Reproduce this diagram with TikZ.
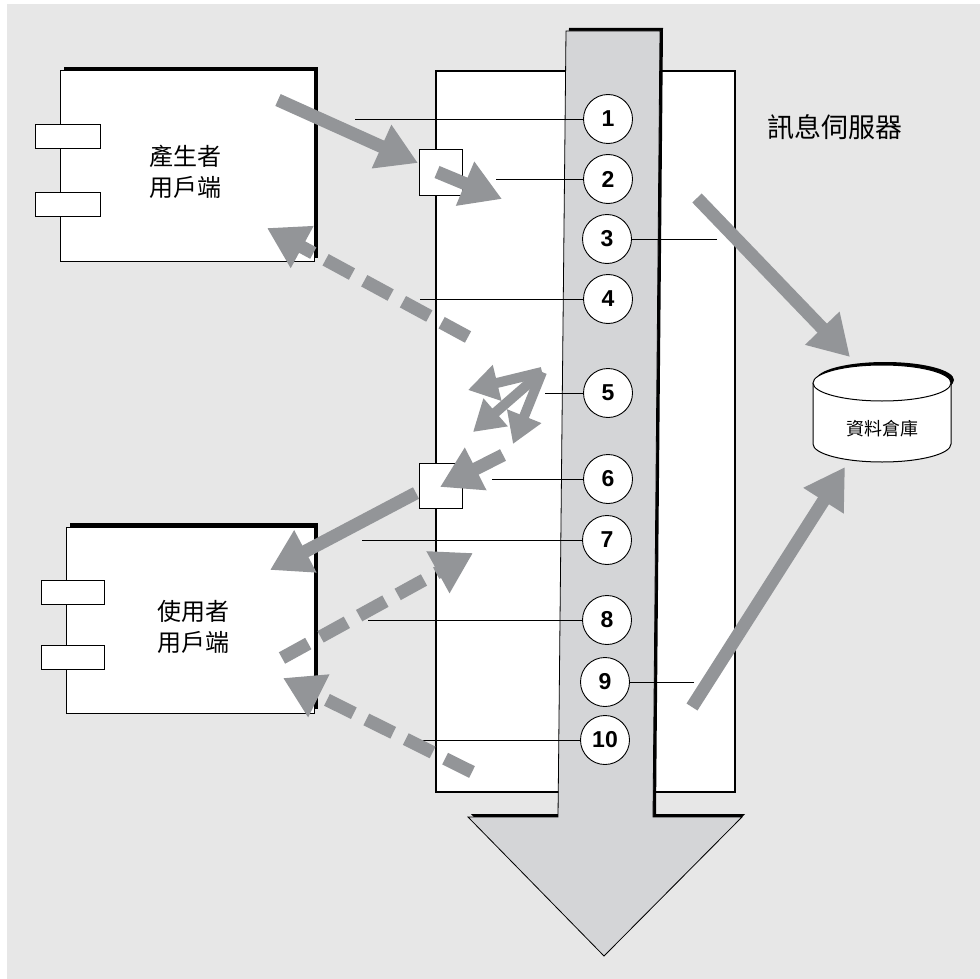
\documentclass[tikz,border=0pt]{standalone}
\usepackage{fontspec}
\setmainfont{Liberation Sans}
\newfontfamily\cjk{Noto Sans CJK TC}
\usetikzlibrary{arrows.meta}
\definecolor{bggray}{HTML}{E7E7E7}
\definecolor{shaftgray}{HTML}{D4D5D7}
\definecolor{arrgray}{HTML}{939598}
\begin{document}
\begin{tikzpicture}[x=1pt,y=-1pt,
  num/.style={circle,draw,fill=white,minimum size=49pt,inner sep=0pt,line width=0.9pt,font=\fontsize{23}{26}\selectfont\bfseries},
  leader/.style={line width=0.8pt},
  flow/.style={draw=arrgray,line width=13pt,-{Triangle[length=40pt,width=45pt]}},
  dflow/.style={flow,dash pattern=on 30pt off 14pt},
  fan/.style={draw=arrgray,line width=10pt,-{Triangle[length=30pt,width=35pt]}},
  port/.style={draw,fill=white,line width=1pt,inner sep=0pt,minimum height=24pt},
  qbox/.style={draw,fill=white,line width=1pt,minimum width=43pt,minimum height=45pt,inner sep=0pt},
  client/.style={draw,fill=white,line width=1pt,inner sep=0pt},
  lbl/.style={font=\cjk\fontsize{24}{31}\selectfont,align=center},
]
\useasboundingbox (0,0) rectangle (980,979);
\fill[white] (0,0) rectangle (980,979);
\fill[bggray] (7,4) rectangle (980,979);

% server box
\draw[line width=2.8pt,fill=white] (436,71) rectangle (735,792);
\node[lbl,font=\cjk\fontsize{27}{31}\selectfont] (title) at (835,127) {訊息伺服器};

% big flow arrow
\begin{scope}[shift={(3,-3)}]
\fill[black] (566,31) -- (660,31) -- (653,817) -- (742,817) -- (604,956) -- (468,817) -- (558,817) -- cycle;
\end{scope}
\draw[fill=shaftgray,line width=0.8pt] (566,31) -- (660,31) -- (653,817) -- (742,817) -- (604,956) -- (468,817) -- (558,817) -- cycle;

% queue boxes
\node[qbox] (q1) at (440.5,172.5) {};
\node[qbox] (q2) at (440.5,485.5) {};

% circles
\node[num] (c1) at (608,119) {1};
\node[num] (c2) at (608,179) {2};
\node[num] (c3) at (607,239) {3};
\node[num] (c4) at (608,299) {4};
\node[num] (c5) at (608,393) {5};
\node[num] (c6) at (608,479) {6};
\node[num] (c7) at (607,540) {7};
\node[num] (c8) at (607,620) {8};
\node[num] (c9) at (605,682) {9};
\node[num] (c10) at (605,740) {10};

% leader ends
\coordinate (l1) at (355,119);
\coordinate (l2) at (496,179);
\coordinate (l3) at (717,239);
\coordinate (l4) at (420,299);
\coordinate (l5) at (545,393);
\coordinate (l6) at (492,479);
\coordinate (l7) at (362,540);
\coordinate (l8) at (368,620);
\coordinate (l9) at (694,682);
\coordinate (l10) at (419,740);
\draw[leader] (l1) -- (c1.west);
\draw[leader] (l2) -- (c2.west);
\draw[leader] (l3) -- (c3.east);
\draw[leader] (l4) -- (c4.west);
\draw[leader] (l5) -- (c5.west);
\draw[leader] (l6) -- (c6.west);
\draw[leader] (l7) -- (c7.west);
\draw[leader] (l8) -- (c8.west);
\draw[leader] (l9) -- (c9.east);
\draw[leader] (l10) -- (c10.west);

% producer client
\fill[black] (64,67) rectangle (318,258);
\node[client,minimum width=254pt,minimum height=190pt] (prod) at (187,166) {};
\node[port,minimum width=65pt] (pp1) at (67.5,137) {};
\node[port,minimum width=65pt] (pp2) at (67.5,204) {};
\node[lbl] (prodl) at (185,172) {產生者\\用戶端};

% consumer client
\fill[black] (70,523) rectangle (318,709);
\node[client,minimum width=248pt,minimum height=186pt] (cons) at (190,620) {};
\node[port,minimum width=63pt] (cp1) at (72.5,592) {};
\node[port,minimum width=63pt] (cp2) at (72.5,657) {};
\node[lbl] (consl) at (193,627) {使用者\\用戶端};

% database
\fill[black] (885,380) ellipse [x radius=69pt, y radius=18pt];
\draw[fill=white,line width=1pt] (813,383) -- (813,444) arc[start angle=180, end angle=360, x radius=69pt, y radius=18pt] -- (951,383);
\draw[fill=white,line width=1pt] (882,383) ellipse [x radius=69pt, y radius=18pt];
\node[font=\cjk\fontsize{18}{20}\selectfont] (db) at (882,429) {資料倉庫};

% flow arrow coordinates
\coordinate (a1s) at (278,100);  \coordinate (a1e) at (418,163);
\coordinate (a2s) at (437,172);  \coordinate (a2e) at (502,199);
\coordinate (a3s) at (468,337);  \coordinate (a3e) at (267,228);
\coordinate (f0) at (542,372);
\coordinate (f1) at (468,390);
\coordinate (f2) at (473,432);
\coordinate (f3) at (513,444);
\coordinate (a5s) at (503,455);  \coordinate (a5e) at (440,487);
\coordinate (a6s) at (416,493);  \coordinate (a6e) at (270,570);
\coordinate (a7s) at (282,658);  \coordinate (a7e) at (473,553);
\coordinate (a8s) at (472,772);  \coordinate (a8e) at (283,678);
\coordinate (a9s) at (697,198);  \coordinate (a9e) at (850,357);
\coordinate (a10s) at (692,707); \coordinate (a10e) at (845,467);

\draw[flow] (a1s) -- (a1e);
\draw[flow] (a2s) -- (a2e);
\draw[dflow] (a3s) -- (a3e);
\draw[fan] (f0) -- (f1);
\draw[fan] (f0) -- (f2);
\draw[fan] (f0) -- (f3);
\draw[flow] (a5s) -- (a5e);
\draw[flow] (a6s) -- (a6e);
\draw[dflow] (a7s) -- (a7e);
\draw[dflow] (a8s) -- (a8e);
\draw[flow] (a9s) -- (a9e);
\draw[flow] (a10s) -- (a10e);
\end{tikzpicture}
\end{document}
